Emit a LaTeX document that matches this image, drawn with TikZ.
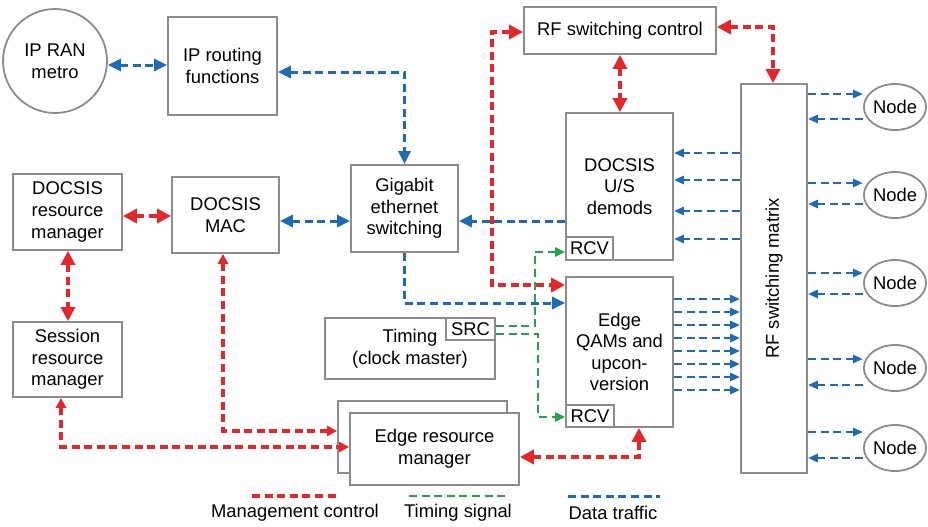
\documentclass[tikz,border=0pt]{standalone}
\usepackage{fontspec}
\setmainfont{Liberation Sans}
\usetikzlibrary{arrows.meta,shapes.geometric}

\definecolor{mred}{HTML}{E5262B}
\definecolor{dblue}{HTML}{1D6AB5}
\definecolor{tgreen}{HTML}{25A24A}
\definecolor{edgegray}{HTML}{8C8C8C}

% box given by its corners, in pixel-like units
\newcommand{\pbox}[6]{%
  \node[box,minimum width={(#4-#2)*0.5pt},minimum height={(#5-#3)*0.5pt}]
    (#1) at ({(#2+#4)/2},{(#3+#5)/2}) {#6};}

\begin{document}
\begin{tikzpicture}[x=0.5pt,y=-0.5pt,
  lab/.style={font=\fontsize{9.2pt}{10.8pt}\selectfont},
  box/.style={lab,draw=edgegray,line width=0.9pt,fill=white,inner sep=0pt,align=center},
  endnode/.style={lab,draw=edgegray,line width=0.9pt,fill=white,ellipse,inner sep=0pt,
    minimum width=31pt,minimum height=23pt},
  mgmt/.style={draw=mred,line width=1.7pt,dash pattern=on 4pt off 2.3pt,
    >={Triangle[length=7pt,width=7pt]}},
  mgmtsm/.style={mgmt,>={Triangle[length=5pt,width=5pt]}},
  data/.style={draw=dblue,line width=1.5pt,dash pattern=on 4pt off 2.3pt,
    >={Triangle[length=6.5pt,width=6pt]}},
  datasm/.style={draw=dblue,line width=1.4pt,dash pattern=on 4pt off 2.3pt,
    >={Triangle[length=5pt,width=4pt]}},
  tim/.style={draw=tgreen,line width=1.4pt,dash pattern=on 4pt off 2.3pt,
    >={Triangle[length=5pt,width=4.5pt]}},
]
\fill[white] (0,0) rectangle (928,526);
\useasboundingbox (0,0) rectangle (928,526);

% --- blocks ---
\node[lab,draw=edgegray,line width=0.9pt,circle,minimum size=52pt,inner sep=0pt,align=center]
  (ipran) at (55,61) {IP RAN\\metro};
\pbox{iproute}{168}{17}{277}{115}{IP routing\\functions}
\pbox{rfctl}{524}{7}{716}{54}{RF switching control}
\pbox{gig}{351}{165}{458}{252}{Gigabit\\ethernet\\switching}
\pbox{demods}{566}{113}{673}{260}{DOCSIS\\U/S\\demods}
\pbox{rcvup}{566}{237}{613}{260}{RCV}
\pbox{qam}{566}{277}{673}{427}{Edge\\QAMs and\\upcon-\\version}
\pbox{rcvdn}{566}{405}{614}{427}{RCV}
\pbox{matrix}{741}{84}{807}{473}{}
\node[lab,rotate=90] at (matrix.center) {RF switching matrix};
\pbox{dsrm}{13}{174}{122}{250}{DOCSIS\\resource\\manager}
\pbox{mac}{172}{177}{279}{253}{DOCSIS\\MAC}
\pbox{srm}{13}{322}{122}{397}{Session\\resource\\manager}
\pbox{timing}{325}{318}{495}{379}{Timing\\(clock master)}
\pbox{src}{446}{318}{495}{340}{SRC}
\pbox{ermback}{338}{401}{507}{473}{}
\pbox{erm}{350}{413}{519}{485}{Edge resource\\manager}

\node[endnode] (n1) at (895,107) {Node};
\node[endnode] (n2) at (895,195) {Node};
\node[endnode] (n3) at (895,283) {Node};
\node[endnode] (n4) at (895,368) {Node};
\node[endnode] (n5) at (895,448) {Node};

% --- data traffic ---
\draw[data,<->] (ipran.east|-0,65) -- (iproute.west|-0,65);
\draw[data,<->] (iproute.east|-0,72) -| (gig.north);
\draw[data,<->] (mac.east|-0,221) -- (gig.west|-0,221);
\draw[data,->] (demods.west|-0,221) -- (gig.east|-0,221);
\draw[data,->] (gig.south) |- (qam.west|-0,303);
\foreach \y in {153,180,211,239}
  \draw[datasm,->] (matrix.west|-0,\y) -- (demods.east|-0,\y);
\foreach \y in {299,312,325,338,351,364,377,390}
  \draw[datasm,->] (qam.east|-0,\y) -- (matrix.west|-0,\y);
\foreach \n/\yo/\yi in {n1/94/119,n2/183/204,n3/273/294,n4/359/385,n5/432/458}{
  \draw[datasm,->] (matrix.east|-0,\yo) -- (\n.west|-0,\yo);
  \draw[datasm,->] (\n.west|-0,\yi) -- (matrix.east|-0,\yi);
}

% --- management control ---
\draw[mgmt,<->] (dsrm.east|-0,216) -- (mac.west|-0,216);
\draw[mgmt,<->] (dsrm.south-|68,0) -- (srm.north-|68,0);
\draw[mgmtsm,<->] (mac.south-|223,0) |- (ermback.west|-0,431);
\draw[mgmtsm,<->] (srm.south-|61,0) |- (erm.west|-0,447);
\draw[mgmt,<->] (erm.east|-0,457) -| (qam.south-|639,0);
\draw[mgmt,<->] (rfctl.west|-0,32) -- (492,32) -- (492,285) -- (qam.west|-0,285);
\draw[mgmt,<->] (rfctl.south-|620,0) -- (demods.north-|620,0);
\draw[mgmt,<->] (rfctl.east|-0,27) -| (matrix.north-|773,0);

% --- timing signal ---
\draw[tim,->] (src.east|-0,326) -- (535,326) |- (rcvup.west|-0,252);
\draw[tim,->] (src.east|-0,334) -- (538,334) |- (rcvdn.west|-0,417);

% --- legend ---
\coordinate (lr1) at (252,496); \coordinate (lr2) at (340,496);
\coordinate (lg1) at (409,496); \coordinate (lg2) at (505,496);
\coordinate (lb1) at (568,496); \coordinate (lb2) at (660,496);
\draw[mgmt] (lr1) -- (lr2);
\draw[tim] (lg1) -- (lg2);
\draw[data] (lb1) -- (lb2);
\node[lab] (lmgmt) at (295,513) {Management control};
\node[lab] (ltim) at (458,513) {Timing signal};
\node[lab] (ldata) at (613,513) {Data traffic};
\end{tikzpicture}
\end{document}
